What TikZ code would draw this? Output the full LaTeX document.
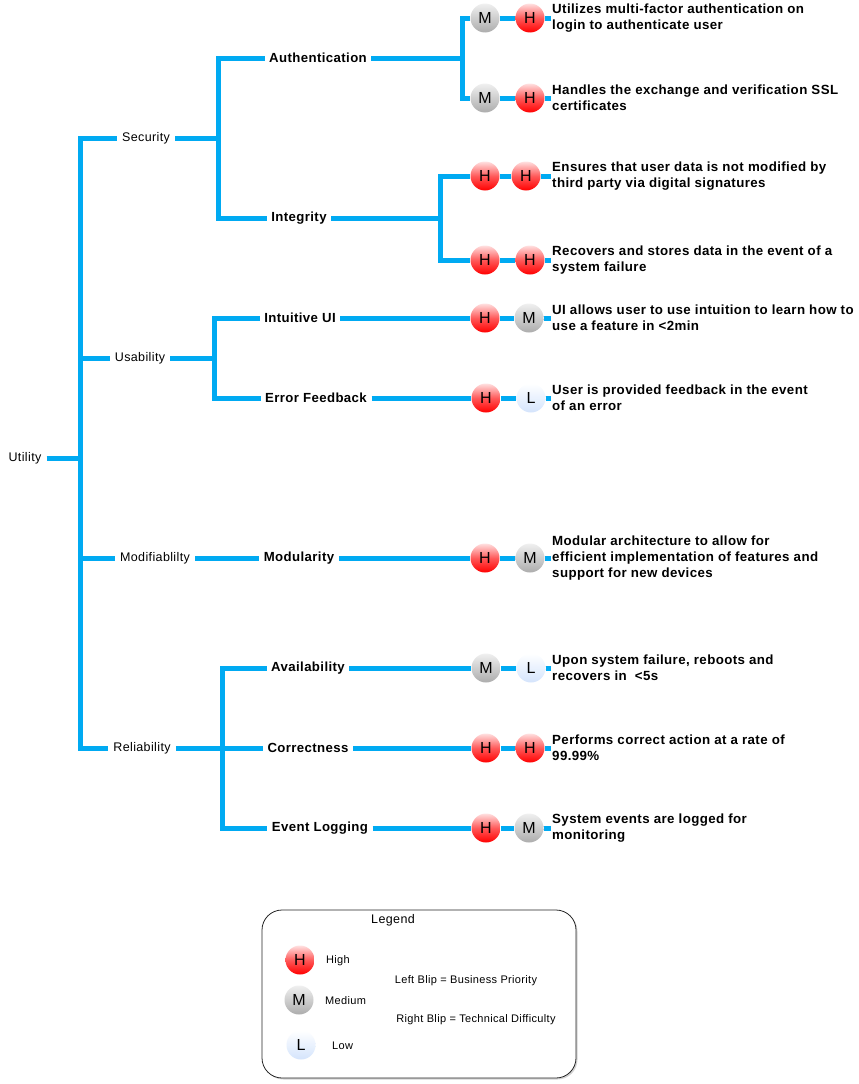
\documentclass[tikz,border=0pt]{standalone}
\usepackage{fontspec}
\setmainfont{Liberation Sans}[LetterSpace=3]
\usetikzlibrary{positioning,shadows}

\definecolor{branchblue}{RGB}{0,170,242}
\definecolor{lowblue}{RGB}{212,228,252}

\tikzset{
  branch/.style={draw=branchblue, line width=5pt},
  toplabel/.style={font=\fontsize{12.5}{15}\selectfont, inner xsep=5pt, inner ysep=2pt},
  midlabel/.style={font=\bfseries\fontsize{13.2}{15}\selectfont, inner xsep=4.5pt, inner ysep=2pt},
  desc/.style={font=\bfseries\fontsize{13.3}{16}\selectfont, anchor=west, align=left, inner xsep=1.5pt, inner ysep=0pt},
  blip/.style={circle, minimum size=29pt, inner sep=0pt, font=\fontsize{16}{16}\selectfont},
  high/.style={blip, top color=red!12, bottom color=red, middle color=red!65},
  medium/.style={blip, top color=gray!12, bottom color=gray!65},
  low/.style={blip, top color=white, bottom color=lowblue},
  legendtext/.style={font=\fontsize{11}{13}\selectfont, inner sep=0pt},
  legendframe/.style={draw=black!85, line width=0.8pt, rounded corners=20pt, fill=white,
    drop shadow={shadow xshift=1.5pt, shadow yshift=-1.5pt, opacity=0.35}}
}

\begin{document}
\begin{tikzpicture}[x=1pt, y=-1pt]
    \useasboundingbox (0,0) rectangle (859,1084);

    % Root and quality attributes
    \node[toplabel] (utility) at (25,458) {Utility};
    \node[toplabel] (security) at (146,138) {Security};
    \node[toplabel] (usability) at (140,358) {Usability};
    \node[toplabel] (modifiability) at (155,558) {Modifiablilty};
    \node[toplabel] (reliability) at (142,748) {Reliability};
    \coordinate (spine) at (80,458);

    % Refinements
    \node[midlabel] (authentication) at (318,58) {Authentication};
    \node[midlabel] (integrity) at (299,218) {Integrity};
    \node[midlabel] (intuitive) at (300,318) {Intuitive UI};
    \node[midlabel] (feedback) at (316,398) {Error Feedback};
    \node[midlabel] (modularity) at (299,558) {Modularity};
    \node[midlabel] (availability) at (308,668) {Availability};
    \node[midlabel] (correctness) at (308,748) {Correctness};
    \node[midlabel] (logging) at (320,828) {Event Logging};
    \coordinate (secj) at (218,138);
    \coordinate (usej) at (214,358);
    \coordinate (relj) at (222,748);
    \coordinate (authj) at (462,58);
    \coordinate (integj) at (440,218);

    % Blips (left = business priority, right = technical difficulty)
    \node[medium] (am1) at (485,18) {M};   \node[high] (ah1) at (530,18) {H};
    \node[medium] (am2) at (485,98) {M};   \node[high] (ah2) at (530,98) {H};
    \node[high] (ih1) at (485,176) {H};    \node[high] (ih2) at (526,176) {H};
    \node[high] (ih3) at (485,260) {H};    \node[high] (ih4) at (530,260) {H};
    \node[high] (uh1) at (485,318) {H};    \node[medium] (um1) at (529,318) {M};
    \node[high] (fh1) at (486,398) {H};    \node[low] (fl1) at (531,398) {L};
    \node[high] (mh1) at (485,558) {H};    \node[medium] (mm1) at (530,558) {M};
    \node[medium] (vm1) at (486,668) {M};  \node[low] (vl1) at (531,668) {L};
    \node[high] (ch1) at (486,748) {H};    \node[high] (ch2) at (530,748) {H};
    \node[high] (lh1) at (486,828) {H};    \node[medium] (lm1) at (529,828) {M};

    % Scenarios
    \node[desc] (d1) at (550.5,18) {Utilizes multi-factor authentication on\\login to authenticate user};
    \node[desc] (d2) at (550.5,98) {Handles the exchange and verification SSL\\certificates};
    \node[desc] (d3) at (550.5,176) {Ensures that user data is not modified by\\third party via digital signatures};
    \node[desc] (d4) at (550.5,260) {Recovers and stores data in the event of a\\system failure};
    \node[desc] (d5) at (550.5,318) {UI allows user to use intuition to learn how to\\use a feature in <2min};
    \node[desc] (d6) at (550.5,398) {User is provided feedback in the event\\of an error};
    \node[desc] (d7) at (550.5,558) {Modular architecture to allow for\\efficient implementation of features and\\support for new devices};
    \node[desc] (d8) at (550.5,668) {Upon system failure, reboots and\\recovers in \ <5s};
    \node[desc] (d9) at (550.5,748) {Performs correct action at a rate of\\99.99\%};
    \node[desc] (d10) at (550.5,828) {System events are logged for\\monitoring};

    % Main spine
    \draw[branch] (utility.east) -- (spine);
    \draw[branch] (security.west) -| (reliability.west -| spine) -- (reliability.west);
    \draw[branch] (usability.west -| spine) -- (usability.west);
    \draw[branch] (modifiability.west -| spine) -- (modifiability.west);

    % Security branch
    \draw[branch] (security.east) -- (secj);
    \draw[branch] (authentication.west) -| (integrity.west -| secj) -- (integrity.west);
    \draw[branch] (authentication.east) -- (authj);
    \draw[branch] (am1.west) -| (am2.west -| authj) -- (am2.west);
    \draw[branch] (integrity.east) -- (integj);
    \draw[branch] (ih1.west) -| (ih3.west -| integj) -- (ih3.west);

    % Usability branch
    \draw[branch] (usability.east) -- (usej);
    \draw[branch] (intuitive.west) -| (feedback.west -| usej) -- (feedback.west);
    \draw[branch] (intuitive.east) -- (uh1);
    \draw[branch] (feedback.east) -- (fh1);

    % Modifiability branch
    \draw[branch] (modifiability.east) -- (modularity.west);
    \draw[branch] (modularity.east) -- (mh1);

    % Reliability branch
    \draw[branch] (reliability.east) -- (correctness.west);
    \draw[branch] (availability.west) -| (logging.west -| relj) -- (logging.west);
    \draw[branch] (availability.east) -- (vm1);
    \draw[branch] (correctness.east) -- (ch1);
    \draw[branch] (logging.east) -- (lh1);

    % Blip pairs to scenarios
    \draw[branch] (am1) -- (ah1) -- (d1.west);
    \draw[branch] (am2) -- (ah2) -- (d2.west);
    \draw[branch] (ih1) -- (ih2) -- (d3.west);
    \draw[branch] (ih3) -- (ih4) -- (d4.west);
    \draw[branch] (uh1) -- (um1) -- (d5.west);
    \draw[branch] (fh1) -- (fl1) -- (d6.west);
    \draw[branch] (mh1) -- (mm1) -- (d7.west);
    \draw[branch] (vm1) -- (vl1) -- (d8.west);
    \draw[branch] (ch1) -- (ch2) -- (d9.west);
    \draw[branch] (lh1) -- (lm1) -- (d10.west);

    % Legend
    \draw[legendframe] (262,910) rectangle (576,1078);
    \node[legendtext, font=\fontsize{12.5}{15}\selectfont] (legendtitle) at (393,920) {Legend};
    \node[high] (keyhigh) at (300,960) {H};
    \node[medium] (keymedium) at (299,1000) {M};
    \node[low] (keylow) at (301,1045) {L};
    \node[legendtext, anchor=west] (highlabel) at (326,961) {High};
    \node[legendtext, anchor=west] (mediumlabel) at (325,1001) {Medium};
    \node[legendtext, anchor=west] (lowlabel) at (332,1046) {Low};
    \node[legendtext] (leftblip) at (466,981) {Left Blip = Business Priority};
    \node[legendtext] (rightblip) at (476,1020) {Right Blip = Technical Difficulty};
\end{tikzpicture}
\end{document}
